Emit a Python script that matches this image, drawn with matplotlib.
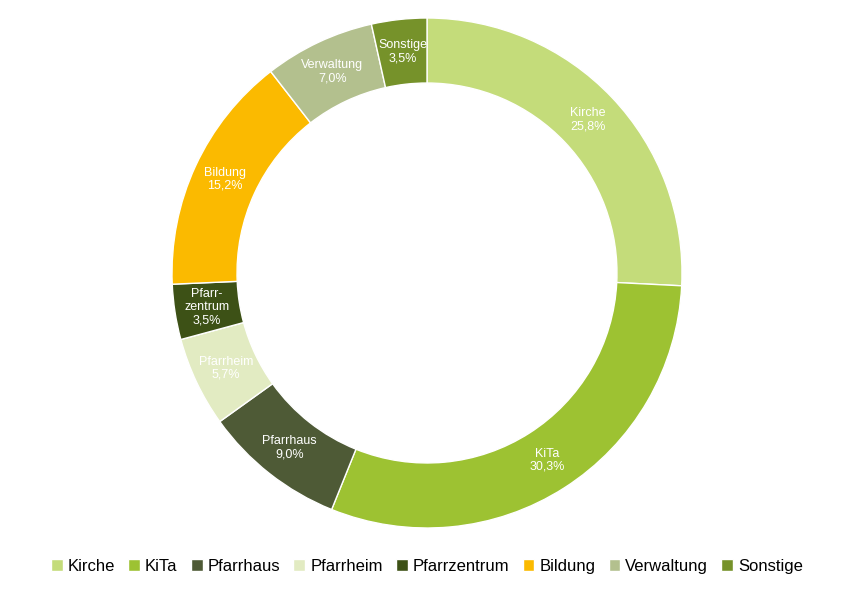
import matplotlib
matplotlib.use("Agg")
import matplotlib.pyplot as plt

categories = ["Kirche", "KiTa", "Pfarrhaus", "Pfarrheim", "Pfarrzentrum", "Bildung", "Verwaltung", "Sonstige"]
values = [25.8, 30.3, 9.0, 5.7, 3.5, 15.2, 7.0, 3.5]
labels = ["Kirche\n25,8%", "KiTa\n30,3%", "Pfarrhaus\n9,0%", "Pfarrheim\n5,7%", "Pfarr-\nzentrum\n3,5%", "Bildung\n15,2%", "Verwaltung\n7,0%", "Sonstige\n3,5%"]
colors = ["#C4DC7A", "#9DC232", "#4E5A36", "#E2EBC2", "#3D5116", "#FBBA00", "#B3C08E", "#76922A"]

plt.rcParams["font.family"] = "Liberation Sans"
fig = plt.figure(figsize=(8.54, 5.89), dpi=100)
ax = fig.add_axes([0.5 - 255/854, 61/589, 510/854, 510/589])
wedges, _ = ax.pie(values, colors=colors, startangle=90, counterclock=False,
                   radius=1.0, wedgeprops=dict(width=0.255, edgecolor="white", linewidth=1))
import numpy as np
for w, lab in zip(wedges, labels):
    ang = np.deg2rad((w.theta1 + w.theta2) / 2)
    r = 0.8725
    ax.text(r*np.cos(ang), r*np.sin(ang), lab, ha="center", va="center",
            color="white", fontsize=9, linespacing=1.1)
ax.set_aspect("equal")
ax.set_xlim(-1, 1); ax.set_ylim(-1, 1)
ax.axis("off")
fig.legend(wedges, categories, loc="lower center", bbox_to_anchor=(0.5, 0.0), ncol=8,
           frameon=False, fontsize=12, handlelength=0.7, handleheight=0.7,
           handletextpad=0.3, columnspacing=0.8)
fig.savefig("out.png", dpi=100)
